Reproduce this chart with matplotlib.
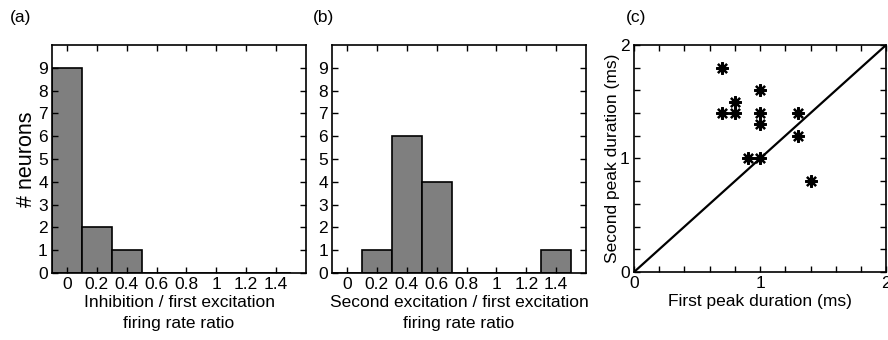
import numpy as np
import matplotlib
matplotlib.use("Agg")
import matplotlib.pyplot as plt

plt.rcParams['font.family'] = ['Liberation Sans', 'DejaVu Sans']

# histogram bin centres and counts
bin_centers = [0, 0.2, 0.4, 0.6, 0.8, 1.0, 1.2, 1.4]
counts_a = [9, 2, 1, 0, 0, 0, 0, 0]
counts_b = [0, 1, 6, 4, 0, 0, 0, 1]
xtick_labels = ['0', '0.2', '0.4', '0.6', '0.8', '1', '1.2', '1.4']

# peak durations (ms)
first_peak = [0.7, 0.7, 0.8, 0.8, 1.0, 1.0, 1.0, 0.9, 1.0, 1.3, 1.3, 1.4]
second_peak = [1.8, 1.4, 1.5, 1.4, 1.6, 1.4, 1.3, 1.0, 1.0, 1.4, 1.2, 0.8]

FS = 12.5

def styleAxes(ax):
    ax.tick_params(direction='in', top=True, right=True, length=4, width=1,
                   labelsize=FS, pad=3)
    ax.tick_params(which='minor', direction='in', top=True, right=True, length=4, width=1)
    for s in ax.spines.values():
        s.set_linewidth(1.2)

def histPanel(ax, counts, xlabel):
    ax.bar(bin_centers, counts, width=0.2, color='#7f7f7f', edgecolor='black', linewidth=1.2)
    ax.set_xlim(-0.1, 1.6)
    ax.set_ylim(0, 10)
    ax.set_xticks(bin_centers)
    ax.set_xticklabels(xtick_labels)
    ax.set_yticks(range(10))
    ax.set_xlabel(xlabel, fontsize=FS, linespacing=1.5, labelpad=2)
    styleAxes(ax)

fig = plt.figure(figsize=(8.88, 3.4), dpi=100)

axA = fig.add_axes([0.0586, 0.197, 0.286, 0.671])
histPanel(axA, counts_a, 'Inhibition / first excitation\nfiring rate ratio')
axA.set_ylabel('# neurons', fontsize=FS + 3, labelpad=1)

axB = fig.add_axes([0.374, 0.197, 0.286, 0.671])
histPanel(axB, counts_b, 'Second excitation / first excitation\nfiring rate ratio')

axC = fig.add_axes([0.714, 0.2, 0.284, 0.668])
axC.plot([0, 2], [0, 2], 'k-', lw=1.6)
axC.plot(first_peak, second_peak, linestyle='none', marker=(8, 2, 0),
         markersize=9, markeredgewidth=1.6, color='black')
axC.set_xlim(0, 2)
axC.set_ylim(0, 2)
axC.set_xticks([0, 1, 2])
axC.set_yticks([0, 1, 2])
axC.set_xticks(np.arange(0, 2.01, 0.2), minor=True)
axC.set_yticks(np.arange(0, 2.01, 0.2), minor=True)
axC.set_xlabel('First peak duration (ms)', fontsize=FS, labelpad=2)
axC.set_ylabel('Second peak duration (ms)', fontsize=FS, labelpad=0)
styleAxes(axC)

fig.text(0.011, 0.935, '(a)', fontsize=FS)
fig.text(0.352, 0.935, '(b)', fontsize=FS)
fig.text(0.705, 0.935, '(c)', fontsize=FS)

fig.savefig('out.png', dpi=100)
